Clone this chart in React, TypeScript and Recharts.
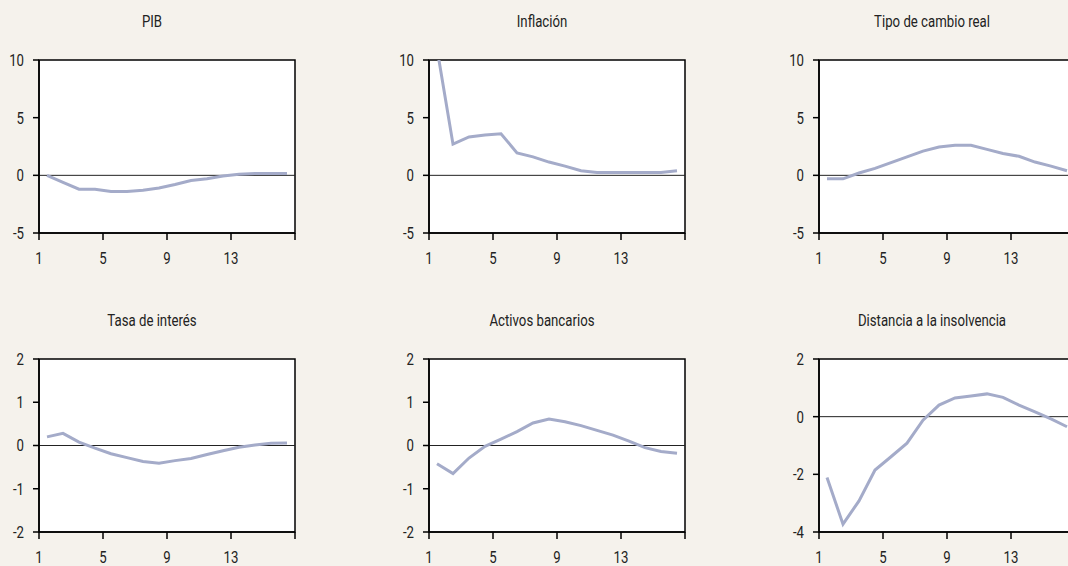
import React from "react";
import { LineChart, Line, XAxis, YAxis, ReferenceLine, ReferenceArea } from "recharts";

const periods = [1, 2, 3, 4, 5, 6, 7, 8, 9, 10, 11, 12, 13, 14, 15, 16];
const xTicks = [0.5, 4.5, 8.5, 12.5, 16.5];
const xTickLabels = ["1", "5", "9", "13", ""];

const pib = [0, -0.6, -1.2, -1.2, -1.4, -1.4, -1.3, -1.1, -0.8, -0.45, -0.3, -0.05, 0.1, 0.15, 0.15, 0.15];
const inflacion = [11, 2.7, 3.33, 3.5, 3.6, 1.95, 1.6, 1.15, 0.8, 0.4, 0.25, 0.25, 0.25, 0.25, 0.25, 0.4];
const tipoCambio = [-0.3, -0.3, 0.2, 0.6, 1.1, 1.6, 2.1, 2.45, 2.6, 2.6, 2.25, 1.9, 1.65, 1.15, 0.8, 0.4];
const tasaInteres = [0.2, 0.28, 0.08, -0.06, -0.19, -0.28, -0.37, -0.41, -0.35, -0.3, -0.21, -0.12, -0.04, 0.01, 0.05, 0.06];
const activos = [-0.42, -0.65, -0.29, -0.02, 0.15, 0.32, 0.52, 0.61, 0.55, 0.46, 0.35, 0.24, 0.1, -0.05, -0.14, -0.18];
const distancia = [-2.11, -3.73, -2.92, -1.85, -1.39, -0.92, -0.12, 0.4, 0.65, 0.72, 0.79, 0.67, 0.4, 0.17, -0.08, -0.35];

const titles = ["PIB", "Inflación", "Tipo de cambio real", "Tasa de interés", "Activos bancarios", "Distancia a la insolvencia"];
const seriesList = [pib, inflacion, tipoCambio, tasaInteres, activos, distancia];
const yDomains: [number, number][] = [[-5, 10], [-5, 10], [-5, 10], [-2, 2], [-2, 2], [-4, 2]];
const yTicksList = [[-5, 0, 5, 10], [-5, 0, 5, 10], [-5, 0, 5, 10], [-2, -1, 0, 1, 2], [-2, -1, 0, 1, 2], [-4, -2, 0, 2]];

const FONT = "Roboto, 'DejaVu Sans Condensed', sans-serif";
const FS = 16.5;
const SX = 0.8;
const BG = "#f5f2ec";
const LINE = "#a4abc9";
const TEXT = "#222";

function YTick(props: any) {
  const { x, y, payload } = props;
  return (
    <g transform={`translate(${x},${y}) scale(${SX},1)`}>
      <text x={0} y={0} dy="0.36em" textAnchor="end" fill={TEXT} fontSize={FS} fontFamily={FONT}>
        {String(payload.value)}
      </text>
    </g>
  );
}

function XTick(props: any) {
  const { x, y, payload } = props;
  const label = xTickLabels[xTicks.indexOf(payload.value)] ?? "";
  return (
    <g transform={`translate(${x},${y}) scale(${SX},1)`}>
      <text x={0} y={0} dy="0.72em" textAnchor="middle" fill={TEXT} fontSize={FS} fontFamily={FONT}>
        {label}
      </text>
    </g>
  );
}

function Panel({ idx }: { idx: number }) {
  const values = seriesList[idx];
  const data = periods.map((p, i) => ({ t: p, v: values[i] }));
  const dom = yDomains[idx];
  const col = idx % 3;
  const row = Math.floor(idx / 3);
  const left = col * 390;
  const top = row === 0 ? 0 : 299;
  return (
    <div style={{ position: "absolute", left, top, width: 320, height: 270 }}>
      <div
        style={{
          position: "absolute",
          left: 0,
          top: 13,
          width: 304,
          textAlign: "center",
          fontFamily: FONT,
          fontSize: FS,
          lineHeight: "18px",
          color: TEXT,
          transform: `scaleX(${SX})`,
          transformOrigin: "152px 0",
        }}
      >
        {titles[idx]}
      </div>
      <LineChart width={320} height={270} data={data} margin={{ top: 60, right: 25, bottom: 7, left: 0 }}>
        <XAxis
          dataKey="t"
          type="number"
          domain={[0.5, 16.5]}
          ticks={xTicks}
          height={30}
          tickSize={7}
          tickMargin={12}
          axisLine={{ stroke: "#000", strokeWidth: 1.5 }}
          tickLine={{ stroke: "#000", strokeWidth: 1.5 }}
          tick={<XTick />}
          allowDataOverflow
        />
        <YAxis
          type="number"
          domain={dom}
          ticks={yTicksList[idx]}
          width={39}
          tickSize={6}
          tickMargin={9}
          interval={0}
          axisLine={{ stroke: "#000", strokeWidth: 1.5 }}
          tickLine={{ stroke: "#000", strokeWidth: 1.5 }}
          tick={<YTick />}
          allowDataOverflow
        />
        <ReferenceArea
          x1={0.5}
          x2={16.5}
          y1={dom[0]}
          y2={dom[1]}
          fill="#ffffff"
          fillOpacity={1}
          stroke="#000"
          strokeWidth={1.5}
        />
        <ReferenceLine y={0} stroke="#222" strokeWidth={1} />
        <Line
          type="linear"
          dataKey="v"
          stroke={LINE}
          strokeWidth={3}
          dot={false}
          activeDot={false}
          isAnimationActive={false}
        />
      </LineChart>
    </div>
  );
}

export default function App() {
  return (
    <div
      style={{
        position: "absolute",
        left: 0,
        top: 0,
        width: 1068,
        height: 566,
        overflow: "hidden",
        background: BG,
      }}
    >
      {[0, 1, 2, 3, 4, 5].map((i) => (
        <Panel key={i} idx={i} />
      ))}
    </div>
  );
}
